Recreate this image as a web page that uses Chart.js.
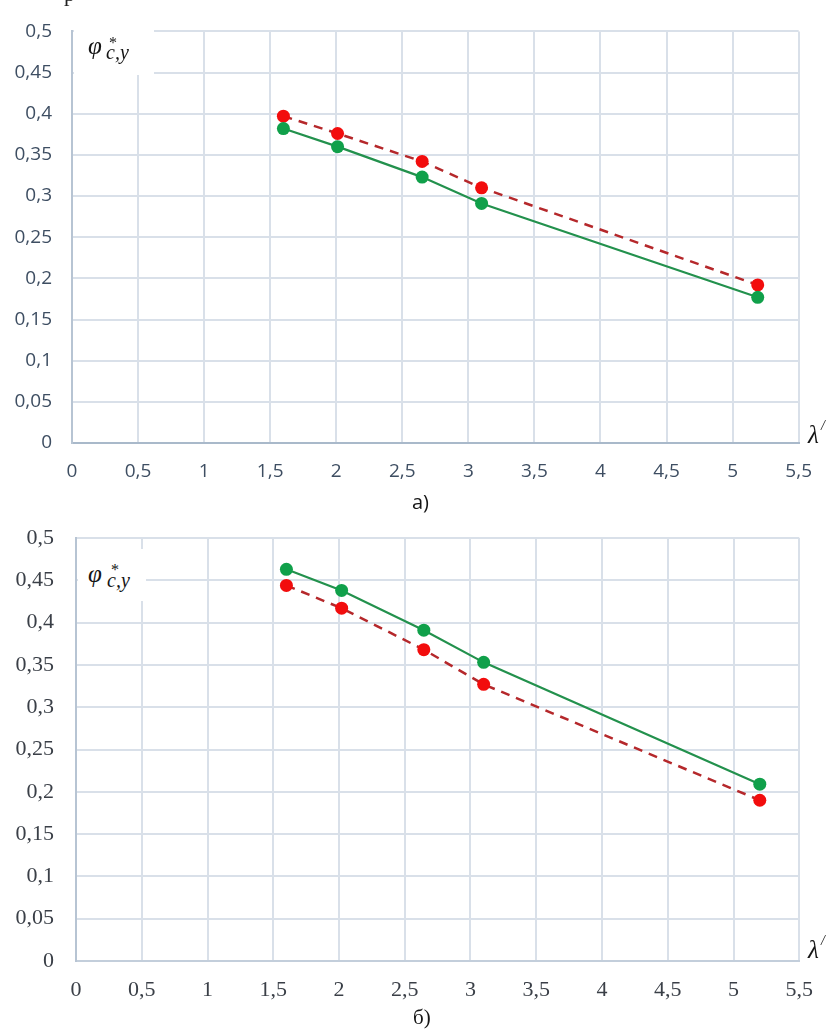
<!DOCTYPE html>
<html>
<head>
<meta charset="utf-8">
<script src="https://cdn.jsdelivr.net/npm/chart.js@4.4.0/dist/chart.umd.min.js"></script>
<style>
  html, body { margin: 0; padding: 0; background: #fff; }
  body { width: 829px; height: 1034px; position: relative; overflow: hidden; }
  .cv { position: absolute; left: 0; }
  .lbl { position: absolute; white-space: nowrap; line-height: 1; }
  .box { position: absolute; background: #fff; }
  .box span, .lam span { position: absolute; line-height: 1; font-family: 'Liberation Serif', serif; font-style: italic; color: #151515; }
  .lam { position: absolute; width: 30px; height: 30px; }
</style>
</head>
<body>
<div class="cv" style="top:0;width:829px;height:500px;"><canvas id="cA"></canvas></div>
<div class="cv" style="top:500px;width:829px;height:534px;"><canvas id="cB"></canvas></div>

<!-- cropped text fragment at top -->
<div class="lbl" style="left:64px;top:-17px;font-family:'Liberation Serif',serif;font-size:22px;color:#222;">р</div>

<!-- chart a: axis label -->
<div class="box" style="left:74px;top:18px;width:80px;height:57px;">
  <span style="left:14px;top:15px;font-size:25px;">φ</span>
  <span style="left:35px;top:17px;font-size:16px;font-style:normal;">*</span>
  <span style="left:32px;top:24px;font-size:20px;">c,y</span>
</div>
<div class="lam" style="left:806px;top:420px;">
  <span style="left:2px;top:2px;font-size:25px;">λ</span>
  <span style="left:15px;top:-1px;font-size:14px;">/</span>
</div>
<div class="lbl" style="left:412px;top:492px;font-family:'Open Sans',sans-serif;font-size:20px;color:#151515;">а)</div>

<!-- chart b: axis label -->
<div class="box" style="left:78px;top:549px;width:68px;height:52px;">
  <span style="left:10px;top:12px;font-size:25px;">φ</span>
  <span style="left:33px;top:13px;font-size:16px;font-style:normal;">*</span>
  <span style="left:29px;top:21px;font-size:20px;">c,y</span>
</div>
<div class="lam" style="left:806px;top:935px;">
  <span style="left:2px;top:2px;font-size:25px;">λ</span>
  <span style="left:15px;top:-1px;font-size:14px;">/</span>
</div>
<div class="lbl" style="left:413px;top:1007px;font-family:'Liberation Serif',serif;font-size:21px;color:#151515;">б)</div>

<script>
// ---- Data: chart а) ----
const xA = [1.6, 2.01, 2.65, 3.1, 5.19];
const redA = [0.397, 0.376, 0.342, 0.310, 0.192];
const greenA = [0.382, 0.360, 0.323, 0.291, 0.177];

// ---- Data: chart б) ----
const xB = [1.6, 2.02, 2.645, 3.1, 5.2];
const greenB = [0.463, 0.438, 0.391, 0.353, 0.209];
const redB = [0.444, 0.417, 0.368, 0.327, 0.190];

// ---- Axis ranges / ticks ----
const xMin = 0, xMax = 5.5, xStep = 0.5;
const yMin = 0, yMax = 0.5, yStep = 0.05;

const fmt = v => String(Math.round(v * 100) / 100).replace('.', ',');
const pts = (xs, ys) => xs.map((x, i) => ({ x: x, y: ys[i] }));

function makeChart(id, xs, red, green, cfg) {
  const gridColor = '#d9e0e9';
  return new Chart(document.getElementById(id), {
    type: 'line',
    data: {
      datasets: [
        {
          data: pts(xs, red),
          borderColor: '#b5282b',
          borderWidth: 2.5,
          borderDash: [9, 7],
          pointBackgroundColor: '#f20d0d',
          pointBorderColor: '#f20d0d',
          pointRadius: 6.5,
          pointBorderWidth: 0,
          tension: 0,
          order: 2
        },
        {
          data: pts(xs, green),
          borderColor: '#23914d',
          borderWidth: 2.2,
          pointBackgroundColor: '#10a04a',
          pointBorderColor: '#10a04a',
          pointRadius: 6.5,
          pointBorderWidth: 0,
          tension: 0,
          order: 1
        }
      ]
    },
    options: {
      responsive: true,
      maintainAspectRatio: false,
      animation: false,
      events: [],
      layout: { padding: { left: 0, right: 29, top: cfg.top, bottom: 0 } },
      plugins: { legend: { display: false }, tooltip: { enabled: false } },
      scales: {
        x: {
          type: 'linear',
          min: xMin, max: xMax,
          ticks: {
            stepSize: xStep,
            callback: v => fmt(v),
            padding: cfg.xPad,
            color: cfg.color,
            font: { family: cfg.font, size: cfg.size },
            maxRotation: 0,
            autoSkip: false
          },
          grid: { color: gridColor, lineWidth: 2, drawTicks: false },
          border: { color: cfg.axisColor, width: 2 },
          afterFit: s => { s.height = cfg.xH; }
        },
        y: {
          type: 'linear',
          min: yMin, max: yMax,
          ticks: {
            stepSize: yStep,
            callback: v => fmt(v),
            padding: cfg.yPad,
            color: cfg.color,
            font: { family: cfg.font, size: cfg.size }
          },
          grid: { color: gridColor, lineWidth: 2, drawTicks: false },
          border: { color: cfg.axisColor2, width: 2 },
          afterFit: s => { s.width = cfg.yW; }
        }
      }
    }
  });
}

makeChart('cA', xA, redA, greenA, {
  top: 16, xH: 57, yW: 72, xPad: 17, yPad: 20,
  font: "'Open Sans', sans-serif", size: 19, color: '#3e4e62',
  axisColor: '#a9b9ca', axisColor2: '#b7c4d3'
});

makeChart('cB', xB, redB, greenB, {
  top: 38, xH: 73, yW: 76, xPad: 16, yPad: 22,
  font: "'Liberation Serif', serif", size: 22, color: '#3a3f47',
  axisColor: '#c3cedb', axisColor2: '#b7c4d3'
});
</script>
</body>
</html>
